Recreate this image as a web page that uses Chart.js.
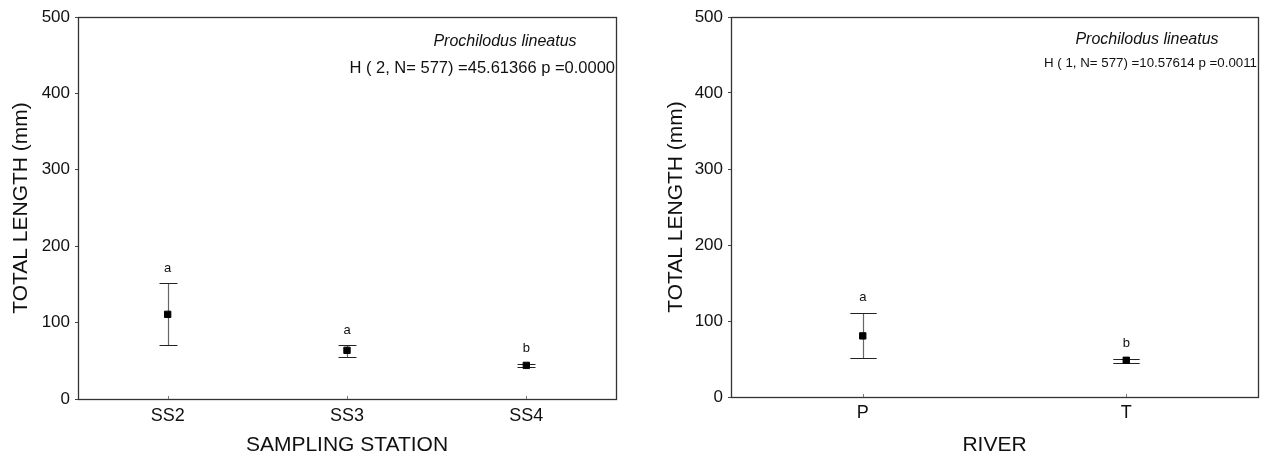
<!DOCTYPE html>
<html>
<head>
<meta charset="utf-8">
<script src="https://cdn.jsdelivr.net/npm/chart.js@4.4.1/dist/chart.umd.min.js"></script>
<style>
  html, body { margin: 0; padding: 0; background: #fff; }
  .panel { position: absolute; top: 0; height: 458px; }
  #left { left: 0; width: 630px; }
  #right { left: 655px; width: 612px; }
</style>
</head>
<body>
<div class="panel" id="left"><canvas id="stationChart"></canvas></div>
<div class="panel" id="right"><canvas id="riverChart"></canvas></div>
<script>
// values (mean, upper and lower whisker)
const stations = ['SS2', 'SS3', 'SS4'];
const stationMean = [110.8, 63.7, 44.0];
const stationUpper = [151.3, 70.2, 46.2];
const stationLower = [70.2, 54.9, 42.3];
const stationGroups = ['a', 'a', 'b'];

const rivers = ['P', 'T'];
const riverMean = [80.4, 48.3];
const riverUpper = [110.7, 50.5];
const riverLower = [51.4, 45.3];
const riverGroups = ['a', 'b'];

const yMin = 0;
const yMax = 500;
const yStep = 100;

Chart.defaults.font.family = '"Liberation Sans", Arial, sans-serif';
Chart.defaults.color = '#111';

// whiskers + group letters
const errorBars = {
    id: 'errorBars',
    beforeDatasetsDraw: function(chart) {
        const ds = chart.data.datasets[0];
        const x = chart.scales.x, y = chart.scales.y;
        const ctx = chart.ctx;
        const capHalf = (x.getPixelForTick(1) - x.getPixelForTick(0)) * 0.05;
        ctx.save();
        ds.data.forEach(function(v, i) {
            const px = Math.round(x.getPixelForValue(i)) + 0.5;
            const top = Math.round(y.getPixelForValue(ds.upper[i])) + 0.5;
            const bot = Math.round(y.getPixelForValue(ds.lower[i])) + 0.5;
            ctx.lineWidth = 1.2;
            ctx.strokeStyle = '#666';
            ctx.beginPath();
            ctx.moveTo(px, top);
            ctx.lineTo(px, bot);
            ctx.stroke();
            ctx.strokeStyle = '#222';
            ctx.beginPath();
            ctx.moveTo(px - capHalf, top);
            ctx.lineTo(px + capHalf, top);
            ctx.moveTo(px - capHalf, bot);
            ctx.lineTo(px + capHalf, bot);
            ctx.stroke();
        });
        ctx.restore();
    },
    afterDatasetsDraw: function(chart) {
        const ds = chart.data.datasets[0];
        const x = chart.scales.x, y = chart.scales.y;
        const ctx = chart.ctx;
        ctx.save();
        ctx.fillStyle = '#111';
        ctx.font = '13px "Liberation Sans", Arial, sans-serif';
        ctx.textAlign = 'center';
        ctx.textBaseline = 'middle';
        ds.groups.forEach(function(g, i) {
            ctx.fillText(g, x.getPixelForValue(i), y.getPixelForValue(ds.upper[i]) - 15);
        });
        ctx.restore();
    }
};

// box frame, inward x ticks and the test text
const frameText = {
    id: 'frameText',
    afterDraw: function(chart, args, opts) {
        const a = chart.chartArea;
        const ctx = chart.ctx;
        const x = chart.scales.x;
        ctx.save();
        ctx.strokeStyle = '#333';
        ctx.lineWidth = 1.3;
        ctx.strokeRect(Math.round(a.left) + 0.5, Math.round(a.top) + 0.5,
            Math.round(a.right - a.left), Math.round(a.bottom - a.top));

        ctx.strokeStyle = '#777';
        ctx.lineWidth = 1;
        ctx.beginPath();
        x.ticks.forEach(function(t, i) {
            const px = Math.round(x.getPixelForTick(i)) + 0.5;
            ctx.moveTo(px, a.bottom);
            ctx.lineTo(px, a.bottom - 3);
        });
        ctx.stroke();

        ctx.fillStyle = '#111';
        ctx.textBaseline = 'middle';
        ctx.textAlign = 'center';
        ctx.font = 'italic 16px "Liberation Sans", Arial, sans-serif';
        ctx.fillText(opts.species, a.right - 111, a.top + opts.speciesY);
        ctx.textAlign = 'right';
        ctx.font = opts.statSize + 'px "Liberation Sans", Arial, sans-serif';
        ctx.fillText(opts.stat, a.right - 1, a.top + opts.statY);
        ctx.restore();
    }
};

function buildOptions(xTitle, yWidth, xHeight, rightPad, tickPad, texts) {
    return {
        responsive: true,
        maintainAspectRatio: false,
        animation: false,
        devicePixelRatio: 1,
        layout: { padding: { top: 17, right: rightPad, bottom: 0, left: 0 } },
        plugins: {
            legend: { display: false },
            tooltip: { enabled: false },
            frameText: texts
        },
        scales: {
            x: {
                type: 'category',
                offset: true,
                grid: { display: true, drawOnChartArea: false, drawTicks: false },
                border: { display: false },
                ticks: { font: { size: 18 }, color: '#111', padding: tickPad },
                title: { display: true, text: xTitle, font: { size: 21 }, color: '#111', padding: 0 },
                afterFit: function(scale) { scale.height = xHeight; }
            },
            y: {
                min: yMin,
                max: yMax,
                grid: { drawOnChartArea: false, drawTicks: true, tickLength: 3, color: '#444' },
                border: { display: false },
                ticks: { stepSize: yStep, font: { size: 17 }, color: '#111', padding: 5 },
                title: { display: true, text: 'TOTAL LENGTH (mm)', font: { size: 21 }, color: '#111',
                    padding: { top: 9, bottom: 0 } },
                afterFit: function(scale) { scale.width = yWidth; }
            }
        }
    };
}

function meanDataset(mean, upper, lower, groups) {
    return {
        data: mean,
        upper: upper,
        lower: lower,
        groups: groups,
        showLine: false,
        pointStyle: 'rect',
        pointRadius: 4.5,
        pointBorderWidth: 1,
        pointBackgroundColor: '#000',
        pointBorderColor: '#000'
    };
}

new Chart(document.getElementById('stationChart'), {
    type: 'line',
    data: {
        labels: stations,
        datasets: [meanDataset(stationMean, stationUpper, stationLower, stationGroups)]
    },
    options: buildOptions('SAMPLING STATION', 78, 59, 14, 6, {
        species: 'Prochilodus lineatus',
        stat: 'H ( 2, N= 577) =45.61366 p =0.0000',
        statSize: 16.5,
        speciesY: 25,
        statY: 51
    }),
    plugins: [errorBars, frameText]
});

new Chart(document.getElementById('riverChart'), {
    type: 'line',
    data: {
        labels: rivers,
        datasets: [meanDataset(riverMean, riverUpper, riverLower, riverGroups)]
    },
    options: buildOptions('RIVER', 76, 61, 9, 5, {
        species: 'Prochilodus lineatus',
        stat: 'H ( 1, N= 577) =10.57614 p =0.0011',
        statSize: 13.3,
        speciesY: 23,
        statY: 46
    }),
    plugins: [errorBars, frameText]
});
</script>
</body>
</html>
